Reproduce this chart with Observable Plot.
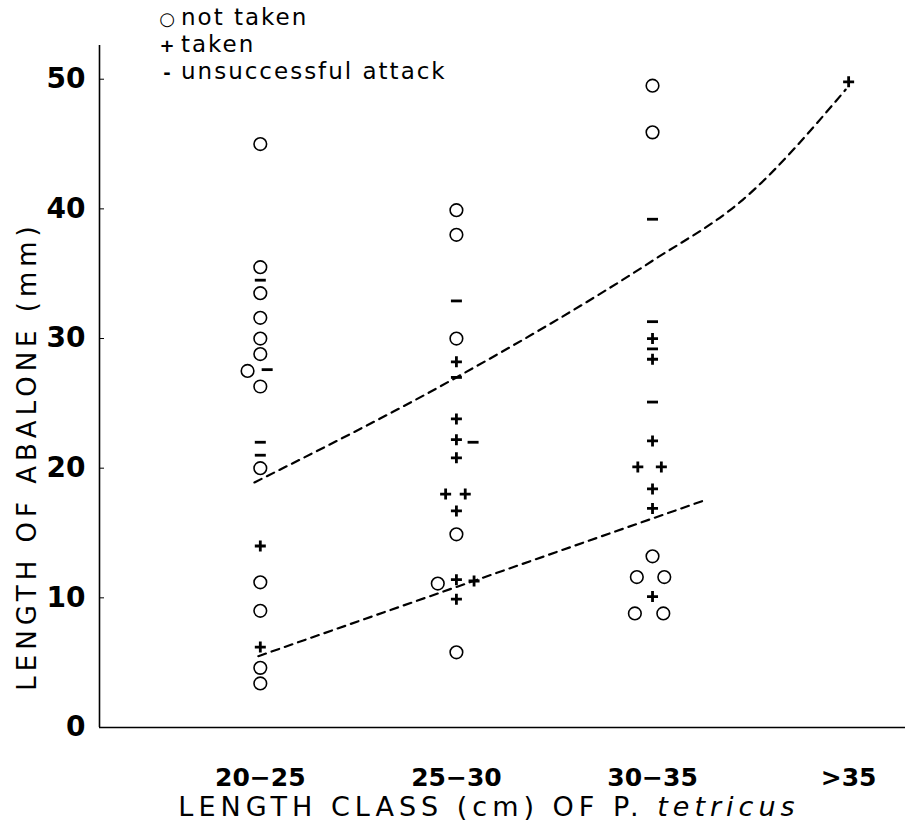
<!DOCTYPE html>
<html>
<head>
<meta charset="utf-8">
<script src="https://cdn.jsdelivr.net/npm/d3@7"></script>
<script src="https://cdn.jsdelivr.net/npm/@observablehq/plot@0.6"></script>
<style>
  html, body { margin: 0; padding: 0; background: #fff; }
  #chart { position: relative; width: 910px; height: 823px; }
</style>
</head>
<body>
<div id="chart"></div>
<script>
// Length classes of P. tetricus (x categories)
const categories = ["20\u221225", "25\u221230", "30\u221235", ">35"];
const yTicks = [0, 10, 20, 30, 40, 50];

// [class index, abalone length (mm), side jitter]
const notTaken = [
  [0, 45, 0], [0, 35.5, 0], [0, 33.5, 0], [0, 31.6, 0], [0, 30, 0], [0, 28.8, 0],
  [0, 27.5, -1.3], [0, 26.3, 0], [0, 20, 0], [0, 11.2, 0], [0, 9, 0], [0, 4.6, 0], [0, 3.4, 0],
  [1, 39.9, 0], [1, 38, 0], [1, 30, 0], [1, 14.9, 0], [1, 11.1, -1.9], [1, 5.8, 0],
  [2, 49.5, 0], [2, 45.9, 0], [2, 13.2, 0], [2, 11.6, -1.6], [2, 11.6, 1.2], [2, 8.8, -1.8], [2, 8.8, 1.1]
];
const taken = [
  [0, 14, 0], [0, 6.2, 0],
  [1, 28.2, 0], [1, 23.8, 0], [1, 22.2, 0], [1, 20.8, 0], [1, 18, -1.1], [1, 18, 0.9],
  [1, 16.7, 0], [1, 11.4, 0], [1, 11.3, 1.8], [1, 9.9, 0],
  [2, 30, 0], [2, 28.4, 0], [2, 22.1, 0], [2, 20.1, -1.5], [2, 20.1, 0.9], [2, 18.4, 0],
  [2, 16.9, 0], [2, 10.1, 0],
  [3, 49.8, 0]
];
const unsuccessful = [
  [0, 34.5, 0], [0, 27.6, 0.7], [0, 22, 0], [0, 21, 0],
  [1, 32.9, 0], [1, 27, 0], [1, 22, 1.7],
  [2, 39.2, 0], [2, 31.3, 0], [2, 29.2, 0], [2, 25.1, 0]
];
// dashed trend lines [class position, length]
const upperLine = [[-0.03, 18.9], [1, 27], [2, 36], [2.46, 40.7], [2.985, 49.2]];
const lowerLine = [[-0.01, 5.5], [2.28, 17.6]];

const jitter = 0.05;
const toRows = arr => arr.map(([c, v, s]) => ({x: c + s * jitter, y: v}));

const plusSymbol = {draw(ctx, size) { const r = Math.sqrt(size / Math.PI); ctx.moveTo(-r, 0); ctx.lineTo(r, 0); ctx.moveTo(0, -r); ctx.lineTo(0, r); }};
const dashSymbol = {draw(ctx, size) { const r = Math.sqrt(size / Math.PI); ctx.moveTo(-r, 0); ctx.lineTo(r, 0); }};

const xMin = -0.82, xMax = 3.29;

const chart = Plot.plot({
  width: 910,
  height: 823,
  marginLeft: 99,
  marginRight: 5,
  marginTop: 45,
  marginBottom: 96,
  style: {fontFamily: "DejaVu Sans", fontSize: "25px", fontWeight: "bold", background: "#fff", color: "#000"},
  x: {domain: [xMin, xMax], ticks: [0, 1, 2, 3], tickFormat: i => categories[i], tickSize: 0, tickPadding: 41, label: null},
  y: {domain: [0, 52.6], ticks: yTicks, tickSize: -5, tickPadding: 19, label: null},
  marks: [
    Plot.ruleX([xMin], {stroke: "#000", strokeWidth: 1.6}),
    Plot.ruleY([0], {stroke: "#000", strokeWidth: 1.6}),
    Plot.line(upperLine, {x: d => d[0], y: d => d[1], stroke: "#000", strokeWidth: 2.2, strokeDasharray: "8,6", curve: "monotone-x"}),
    Plot.line(lowerLine, {x: d => d[0], y: d => d[1], stroke: "#000", strokeWidth: 2.2, strokeDasharray: "8,6"}),
    Plot.dot(toRows(notTaken), {x: "x", y: "y", r: 6.3, fill: "none", stroke: "#000", strokeWidth: 1.6}),
    Plot.dot(toRows(taken), {x: "x", y: "y", r: 5.5, symbol: plusSymbol, fill: "none", stroke: "#000", strokeWidth: 2.8}),
    Plot.dot(toRows(unsuccessful), {x: "x", y: "y", r: 5.5, symbol: dashSymbol, fill: "none", stroke: "#000", strokeWidth: 2.8})
  ]
});

document.getElementById("chart").appendChild(chart);

const svg = d3.select(chart);
// larger y tick labels
svg.selectAll('g[aria-label="y-axis"] text, g[aria-label="y-axis tick label"] text').style("font-size", "28px");

// Y axis title
svg.append("text")
  .attr("transform", "translate(36,456) rotate(-90)")
  .attr("text-anchor", "middle")
  .style("font-family", "DejaVu Sans").style("font-size", "26px").style("font-weight", "normal")
  .style("letter-spacing", "5px")
  .text("LENGTH OF ABALONE (mm)");
// X axis title
const xt = svg.append("text")
  .attr("x", 489).attr("y", 816)
  .attr("text-anchor", "middle")
  .style("font-family", "DejaVu Sans").style("font-size", "27px").style("font-weight", "normal")
  .style("letter-spacing", "5px");
xt.append("tspan").text("LENGTH CLASS (cm) OF P. ");
xt.append("tspan").style("font-style", "italic").text("tetricus");
// Legend
const legendItems = [["\u25CB", "not taken", 25], ["+", "taken", 52], ["-", "unsuccessful attack", 79]];
for (const [sym, label, yy] of legendItems) {
  svg.append("text").attr("x", 167).attr("y", yy).attr("text-anchor", "middle")
    .style("font-family", "DejaVu Sans").style("font-size", "18px").style("font-weight", "bold").text(sym);
  svg.append("text").attr("x", 181).attr("y", yy).attr("text-anchor", "start")
    .style("font-family", "DejaVu Sans").style("font-size", "23px").style("font-weight", "normal")
    .style("letter-spacing", "2px").text(label);
}
</script>
</body>
</html>
